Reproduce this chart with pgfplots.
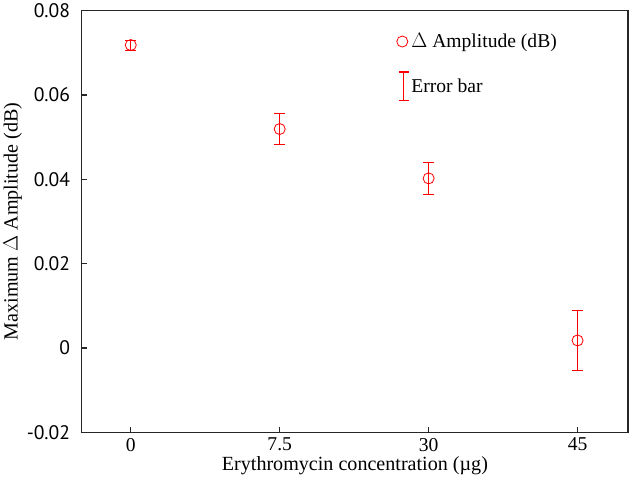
\documentclass[border=0pt]{standalone}
\usepackage{pgfplots}
\pgfplotsset{compat=1.18}
\usepackage{fontspec}
\setmainfont{Liberation Serif}
\newfontfamily\ticksans{PT Sans}

\pgfplotstableread{
x y err
0 0.0718 0.0012
1 0.0519 0.0037
2 0.0402 0.0039
3 0.0018 0.0072
}\amp

\begin{document}
\begin{tikzpicture}
\begin{axis}[
  scale only axis,
  width=544pt, height=420pt,
  font=\fontsize{20}{23}\selectfont,
  xmin=-0.33, xmax=3.34, ymin=-0.02, ymax=0.08,
  scaled y ticks=false,
  xtick={0,1,2,3}, xticklabels={0,7.5,30,45},
  ytick={-0.02,0,0.02,0.04,0.06,0.08},
  yticklabels={-0.02,0,0.02,0.04,0.06,0.08},
  yticklabel style={font=\ticksans\fontsize{19.5}{22}\selectfont, xshift=-8pt},
  xticklabel style={font=\fontsize{19.5}{22}\selectfont, yshift=-2pt},
  xlabel={Erythromycin concentration (\textmu g)},
  ylabel={Maximum $\Delta$ Amplitude (dB)},
  tick align=inside, tick pos=left,
  major tick length=5pt,
  axis line style={black!85, line width=1.6pt},
  tick style={black!85, line width=1.4pt},
  xlabel style={yshift=2pt},
  ylabel style={yshift=-2pt},
  legend style={at={(0.57,0.955)}, anchor=north west, draw=none, fill=none,
                row sep=20pt, font=\fontsize{19.5}{22}\selectfont},
  legend cell align=left,
]
\addplot[red, only marks, mark=o, mark size=5.5pt, line width=0.8pt,
  forget plot,
  error bars/.cd, y dir=both, y explicit,
  error bar style={red, line width=0.8pt},
  error mark options={red, rotate=90, mark size=5.5pt, line width=0.8pt},
  ] table[x=x, y=y, y error=err] {\amp};
\addlegendimage{legend image code/.code={
  \draw[red, line width=0.8pt] (0.15cm,0) circle (5.5pt);}}
\addlegendentry{$\Delta$ Amplitude (dB)}
\addlegendimage{legend image code/.code={
  \draw[red, line width=1pt] (0.2cm,-14pt) -- (0.2cm,14pt)
    (0.2cm-5pt,-14pt) -- (0.2cm+5pt,-14pt)
    (0.2cm-5pt,14pt) -- (0.2cm+5pt,14pt);}}
\addlegendentry{Error bar}
\end{axis}
\path (current axis.south west) ++(0,-57pt) rectangle (current axis.south east);
\end{tikzpicture}
\end{document}
